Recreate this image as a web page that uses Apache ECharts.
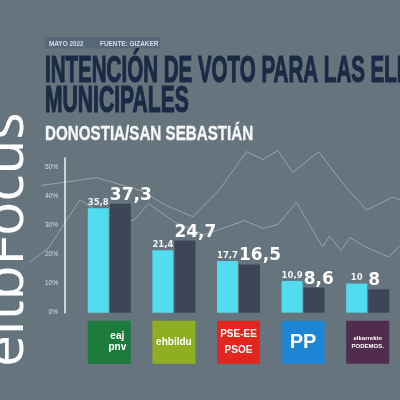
<!DOCTYPE html>
<html lang="es">
<head>
    <meta charset="UTF-8">
    <title>Intención de voto - Donostia/San Sebastián</title>
    <script src="https://cdn.jsdelivr.net/npm/echarts@6/dist/echarts.min.js"></script>
    <style>
        html, body { margin: 0; padding: 0; background: #66747e; }
        #main { width: 400px; height: 400px; }
    </style>
</head>
<body>
<div id="main"></div>
<script>
    // datos de la encuesta (Gizaker, mayo 2022)
    var partidos = ['EAJ-PNV', 'EH Bildu', 'PSE-EE', 'PP', 'Elkarrekin Podemos'];
    var logoTexto = ['eaj\npnv', 'ehbildu', 'PSE-EE\nPSOE', 'PP', 'elkarrekin\nPODEMOS.'];
    var elecciones2019 = [35.8, 21.4, 17.7, 10.9, 10];
    var encuesta2022 = [37.3, 24.7, 16.5, 8.6, 8];
    var ejeY = [0, 10, 20, 30, 40, 50];

    // lineas decorativas del fondo (x, y en escala 0-100)
    var fondoAX = [0, 5, 13.5, 19, 28, 32, 39, 47, 58, 63, 67, 72, 79, 81, 84, 86.5, 90.5, 97, 100];
    var fondoAY = [6, 17, 54, 44, 38, 51, 37, 27, 38, 32, 35, 52, 18, 26, 15, 25, 18, 10, 19];
    var fondoBX = [3, 18, 30, 36.5, 44, 51, 58.5, 63, 67, 71, 78, 85, 91, 98, 100];
    var fondoBY = [65, 71, 61, 50, 41, 61, 91, 85, 92, 75, 91, 65, 46, 56, 54];

    var estiloLogo = {
        'EAJ-PNV': { backgroundColor: '#1c7b3b', fontSize: 10, fontWeight: 'bold', lineHeight: 11, padding: [10, 2, 11, 18], width: 23 },
        'EH Bildu': { backgroundColor: '#8fae22', fontSize: 10, fontWeight: 'bold', lineHeight: 12, padding: [15.5, 0, 15.5, 0], width: 43 },
        'PSE-EE': { backgroundColor: '#e2261e', fontSize: 10, fontWeight: 'bold', lineHeight: 16, padding: [5.5, 0, 5.5, 0], width: 43 },
        'PP': { backgroundColor: '#1c86d4', fontSize: 20, fontWeight: 'bold', lineHeight: 24, padding: [9.5, 0, 9.5, 0], width: 43 },
        'Elkarrekin Podemos': { backgroundColor: '#502c4e', fontSize: 6, fontWeight: 'bold', lineHeight: 8, padding: [13.5, 0, 13.5, 0], width: 43 }
    };

    function zip(xs, ys) {
        var out = [];
        for (var i = 0; i < xs.length; i++) out.push([xs[i], ys[i]]);
        return out;
    }

    var categorias = partidos.map(function (p, i) {
        var st = Object.assign({ color: '#ffffff', fontFamily: 'Liberation Sans', align: 'center' }, estiloLogo[p]);
        return { value: logoTexto[i], textStyle: st };
    });

    var chart = echarts.init(document.getElementById('main'), null, { renderer: 'canvas' });

    var option = {
        backgroundColor: '#66747e',
        animation: false,
        grid: [
            { left: 77, width: 325, top: 158, bottom: 87.3 },
            { left: 30, right: 0, top: 140, bottom: 130 }
        ],
        xAxis: [{
            type: 'category',
            data: categorias,
            axisLine: { show: false },
            axisTick: { show: false },
            axisLabel: { interval: 0, margin: 8, color: '#ffffff' }
        }, {
            type: 'value', gridIndex: 1, min: 0, max: 100, show: false
        }],
        yAxis: [{
            type: 'value',
            min: 0,
            max: 53,
            interval: 10,
            offset: 12,
            axisLine: { show: true, lineStyle: { color: '#f4f6f8', width: 1.5 } },
            axisTick: { show: false },
            splitLine: { show: false },
            axisLabel: {
                margin: 7,
                fontSize: 6.5,
                fontFamily: 'Liberation Sans',
                color: '#d9dfe3',
                formatter: function (v) { return ejeY.indexOf(v) >= 0 ? v + '%' : ''; }
            }
        }, {
            type: 'value', gridIndex: 1, min: 0, max: 100, show: false
        }],
        series: [{
            type: 'line',
            xAxisIndex: 1, yAxisIndex: 1,
            data: zip(fondoAX, fondoAY),
            showSymbol: false, silent: true, z: 1,
            lineStyle: { color: 'rgba(255,255,255,0.35)', width: 1 }
        }, {
            type: 'line',
            xAxisIndex: 1, yAxisIndex: 1,
            data: zip(fondoBX, fondoBY),
            showSymbol: false, silent: true, z: 1,
            lineStyle: { color: 'rgba(255,255,255,0.35)', width: 1 }
        }, {
            name: '2019',
            type: 'bar',
            data: elecciones2019,
            barWidth: 21,
            barGap: '5%',
            z: 3,
            itemStyle: { color: '#52dcf0' },
            label: {
                show: true,
                position: 'top',
                distance: 1,
                fontFamily: 'DejaVu Sans',
                fontWeight: 'bold',
                fontSize: 8.5,
                color: '#eef3f5',
                formatter: function (p) { return String(p.value).replace('.', ','); }
            }
        }, {
            name: '2022',
            type: 'bar',
            data: encuesta2022,
            barWidth: 21,
            z: 3,
            itemStyle: { color: '#3c4657' },
            label: {
                show: true,
                position: [0, 0],
                align: 'left',
                verticalAlign: 'bottom',
                fontFamily: 'DejaVu Sans',
                fontWeight: 'bold',
                fontSize: 17,
                color: '#ffffff',
                formatter: function (p) { return String(p.value).replace('.', ','); }
            }
        }],
        graphic: [
            {
                type: 'rect', z: 10,
                shape: { x: 45, y: 37, width: 115, height: 11.5 },
                style: { fill: '#56677a' }
            },
            {
                type: 'text', z: 11, x: 49, y: 43.3, scaleX: 0.8,
                style: { text: 'MAYO 2022', fontFamily: 'Liberation Sans', fontWeight: 'bold', fontSize: 8, fill: '#d5dbe0', verticalAlign: 'middle' }
            },
            {
                type: 'text', z: 11, x: 100, y: 43.3, scaleX: 0.8,
                style: { text: 'FUENTE: GIZAKER', fontFamily: 'Liberation Sans', fontWeight: 'bold', fontSize: 8, fill: '#d5dbe0', verticalAlign: 'middle' }
            },
            {
                type: 'text', z: 11, x: 45, y: 71.8, scaleX: 0.545,
                style: { text: 'INTENCIÓN DE VOTO PARA LAS ELECCIONES', fontFamily: 'Liberation Sans', fontWeight: 'bold', fontSize: 37.7, fill: '#1a2944', stroke: '#1a2944', lineWidth: 1.2, verticalAlign: 'middle' }
            },
            {
                type: 'text', z: 11, x: 45, y: 101.8, scaleX: 0.56,
                style: { text: 'MUNICIPALES', fontFamily: 'Liberation Sans', fontWeight: 'bold', fontSize: 37.7, fill: '#1a2944', stroke: '#1a2944', lineWidth: 1.2, verticalAlign: 'middle' }
            },
            {
                type: 'text', z: 11, x: 45, y: 134.3, scaleX: 0.74,
                style: { text: 'DONOSTIA/SAN SEBASTIÁN', fontFamily: 'Liberation Sans', fontWeight: 'bold', fontSize: 20.5, fill: '#f4f6f8', stroke: '#f4f6f8', lineWidth: 0.4, verticalAlign: 'middle' }
            },
            {
                type: 'text', z: 11, x: 7, y: 367, rotation: Math.PI / 2,
                style: { text: 'eitbFocus', fontFamily: 'Open Sans', fontSize: 57, fill: '#ffffff', verticalAlign: 'middle' }
            }
        ]
    };

    chart.setOption(option);
</script>
</body>
</html>
